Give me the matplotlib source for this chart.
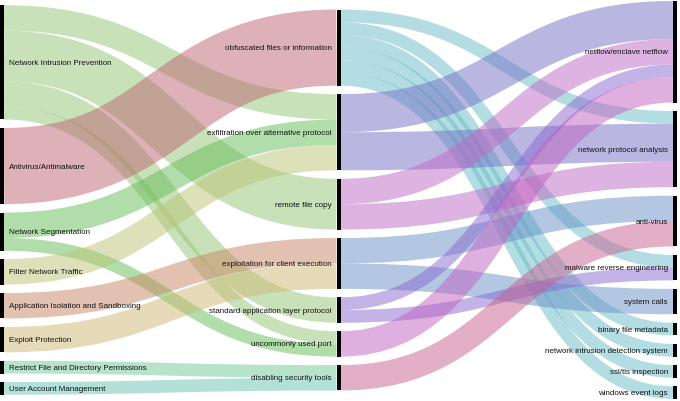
import matplotlib
matplotlib.use("Agg")
import matplotlib.pyplot as plt
from matplotlib.path import Path
from matplotlib.patches import PathPatch, Rectangle

# ---------------- data ----------------
left_nodes = ["Network Intrusion Prevention", "Antivirus/Antimalware", "Network Segmentation",
              "Filter Network Traffic", "Application Isolation and Sandboxing", "Exploit Protection",
              "Restrict File and Directory Permissions", "User Account Management"]
middle_nodes = ["obfuscated files or information", "exfiltration over alternative protocol",
                "remote file copy", "exploitation for client execution",
                "standard application layer protocol", "uncommonly used port",
                "disabling security tools"]
right_nodes = ["netflow/enclave netflow", "network protocol analysis", "anti-virus",
               "malware reverse engineering", "system calls", "binary file metadata",
               "network intrusion detection system", "ssl/tls inspection", "windows event logs"]

# mitigation -> technique
links1_source = ["Network Intrusion Prevention", "Network Intrusion Prevention",
                 "Network Intrusion Prevention", "Network Intrusion Prevention",
                 "Antivirus/Antimalware", "Network Segmentation", "Network Segmentation",
                 "Filter Network Traffic", "Application Isolation and Sandboxing",
                 "Exploit Protection", "Restrict File and Directory Permissions",
                 "User Account Management"]
links1_target = ["exfiltration over alternative protocol", "remote file copy",
                 "standard application layer protocol", "uncommonly used port",
                 "obfuscated files or information", "exfiltration over alternative protocol",
                 "uncommonly used port", "exfiltration over alternative protocol",
                 "exploitation for client execution", "exploitation for client execution",
                 "disabling security tools", "disabling security tools"]
links1_value = [2, 4, 2, 1, 6, 2, 1, 2, 2, 2, 1, 1]

# technique -> data source
links2_source = ["obfuscated files or information"] * 6 + \
                ["exfiltration over alternative protocol"] * 2 + \
                ["remote file copy"] * 2 + \
                ["exploitation for client execution"] * 2 + \
                ["standard application layer protocol"] * 2 + \
                ["uncommonly used port", "disabling security tools"]
links2_target = ["network protocol analysis", "malware reverse engineering", "binary file metadata",
                 "network intrusion detection system", "ssl/tls inspection", "windows event logs",
                 "netflow/enclave netflow", "network protocol analysis",
                 "netflow/enclave netflow", "network protocol analysis",
                 "anti-virus", "system calls",
                 "netflow/enclave netflow", "malware reverse engineering",
                 "netflow/enclave netflow", "anti-virus"]
links2_value = [1, 1, 1, 1, 1, 1, 3, 3, 2, 2, 2, 2, 1, 1, 2, 2]

# ---------------- style ----------------
W, H, DPI = 680, 402, 100
NODE_W = 4
PAD = 8.5
Y0, Y1 = 2, 400
LINK_ALPHA = 0.5
colors = {
    "Network Intrusion Prevention": "#95c575",
    "Antivirus/Antimalware": "#bd6571",
    "Network Segmentation": "#65bd59",
    "Filter Network Traffic": "#bdc575",
    "Application Isolation and Sandboxing": "#c98565",
    "Exploit Protection": "#cdb975",
    "Restrict File and Directory Permissions": "#71c999",
    "User Account Management": "#69c5b1",
    "obfuscated files or information": "#69bdc9",
    "exfiltration over alternative protocol": "#7571c5",
    "remote file copy": "#bd69c5",
    "exploitation for client execution": "#6991c9",
    "standard application layer protocol": "#8969d1",
    "uncommonly used port": "#c161c1",
    "disabling security tools": "#c96191",
}

plt.rcParams['font.family'] = ['Liberation Sans', 'DejaVu Sans']
fig = plt.figure(figsize=(W / DPI, H / DPI), dpi=DPI)
ax = fig.add_axes([0, 0, 1, 1])
ax.set_xlim(0, W)
ax.set_ylim(H, 0)
ax.axis("off")

# ---------------- layout ----------------
columns = [left_nodes, middle_nodes, right_nodes]
all_links = []
for s, t, v in zip(links1_source, links1_target, links1_value):
    all_links.append({"s": s, "t": t, "v": v})
for s, t, v in zip(links2_source, links2_target, links2_value):
    all_links.append({"s": s, "t": t, "v": v})

value = {}
for col in columns:
    for n in col:
        out_v = sum(l["v"] for l in all_links if l["s"] == n)
        in_v = sum(l["v"] for l in all_links if l["t"] == n)
        value[n] = max(out_v, in_v)

ky = min((Y1 - Y0 - (len(c) - 1) * PAD) / sum(value[n] for n in c) for c in columns)
x_right_end = 677
node_pos = {}
for ci, col in enumerate(columns):
    x0 = ci * (x_right_end - NODE_W) / (len(columns) - 1)
    total = sum(value[n] for n in col) * ky + (len(col) - 1) * PAD
    y = (Y0 + Y1) / 2 - total / 2
    for n in col:
        node_pos[n] = [x0, x0 + NODE_W, y, y + value[n] * ky]
        y += value[n] * ky + PAD

# link y positions
for n in node_pos:
    outs = sorted([l for l in all_links if l["s"] == n], key=lambda l: node_pos[l["t"]][2])
    y = node_pos[n][2]
    for l in outs:
        l["y0"] = y + l["v"] * ky / 2
        y += l["v"] * ky
    ins = sorted([l for l in all_links if l["t"] == n], key=lambda l: node_pos[l["s"]][2])
    y = node_pos[n][2]
    for l in ins:
        l["y1"] = y + l["v"] * ky / 2
        y += l["v"] * ky

# ---------------- draw links ----------------
for l in all_links:
    sx = node_pos[l["s"]][1]
    tx = node_pos[l["t"]][0]
    mx = (sx + tx) / 2
    path = Path([(sx, l["y0"]), (mx, l["y0"]), (mx, l["y1"]), (tx, l["y1"])],
                [Path.MOVETO, Path.CURVE4, Path.CURVE4, Path.CURVE4])
    patch = PathPatch(path, fill=False, edgecolor=colors[l["s"]], alpha=LINK_ALPHA,
                      linewidth=l["v"] * ky * 72 / DPI, capstyle="butt")
    ax.add_patch(patch)

# ---------------- draw nodes & labels ----------------
for ci, col in enumerate(columns):
    for n in col:
        x0, x1, y0, y1 = node_pos[n]
        ax.add_patch(Rectangle((x0, y0), x1 - x0, y1 - y0, facecolor="black", edgecolor="none"))
        if ci == 0:
            ax.text(x1 + 5, (y0 + y1) / 2, n, ha="left", va="center", fontsize=5.75, color="#111111")
        else:
            ax.text(x0 - 5, (y0 + y1) / 2, n, ha="right", va="center", fontsize=5.75, color="#111111")

fig.savefig("out.png", dpi=DPI)
